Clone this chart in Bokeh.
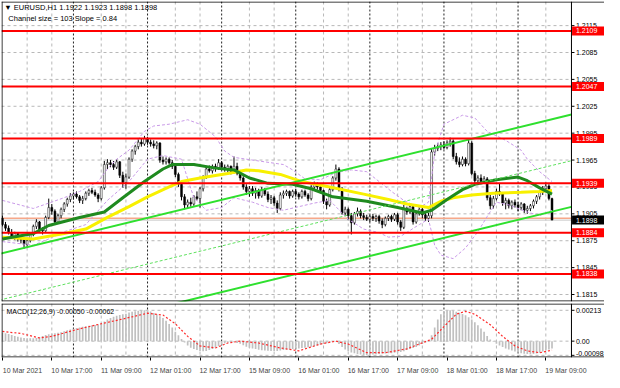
from bokeh.plotting import figure
from bokeh.models import Range1d, FixedTicker, Label, Span, ColumnDataSource
from bokeh.layouts import column
from bokeh.embed import file_html
from bokeh.resources import INLINE
from bokeh.core.properties import value

FONT = "Liberation Sans"

# ---------------- data (prices in pips, EURUSD H1, bar 0 = 10 Mar 01:00) ----------------
opens = [11900,11893,11889,11884,11880,11883,11877,11876,11871,11875,
         11882,11891,11896,11887,11886,11901,11912,11908,11896,11903,
         11910,11916,11921,11925,11927,11924,11920,11922,11928,11931,
         11929,11926,11922,11934,11960,11962,11960,11957,11963,11948,
         11940,11946,11966,11975,11980,11985,11983,11989,11985,11983,
         11981,11984,11965,11963,11966,11962,11958,11949,11938,11924,
         11915,11918,11916,11924,11922,11933,11946,11955,11953,11958,
         11956,11962,11957,11955,11958,11952,11958,11950,11945,11935,
         11930,11933,11928,11931,11925,11932,11927,11921,11923,11917,
         11911,11926,11928,11930,11925,11930,11927,11924,11930,11926,
         11922,11935,11938,11935,11931,11919,11915,11932,11945,11955,
         11933,11906,11910,11903,11895,11905,11908,11903,11901,11899,
         11902,11900,11902,11897,11893,11900,11902,11899,11904,11896,
         11890,11911,11907,11913,11896,11905,11910,11904,11900,11903,
         11974,11978,11980,11982,11979,11984,11986,11969,11963,11960,
         11966,11961,11984,11950,11942,11945,11941,11944,11923,11914,
         11922,11930,11927,11917,11920,11914,11918,11915,11912,11916,
         11909,11911,11914,11919,11924,11929,11933,11936,11922]
highs = [11903,11896,11892,11888,11885,11884,11881,11878,11877,11884,
         11893,11899,11897,11890,11903,11922,11916,11910,11905,11912,
         11918,11923,11928,11929,11930,11926,11925,11930,11933,11934,
         11932,11928,11936,11964,11966,11965,11964,11966,11964,11952,
         11950,11968,11977,11982,11988,11989,11992,11991,11988,11987,
         11986,11985,11969,11968,11968,11965,11960,11951,11941,11927,
         11921,11923,11926,11930,11935,11948,11958,11959,11960,11961,
         11966,11964,11960,11960,11959,11969,11962,11954,11947,11938,
         11936,11936,11934,11933,11935,11934,11930,11926,11925,11920,
         11929,11931,11932,11931,11932,11933,11929,11932,11932,11928,
         11937,11941,11940,11937,11932,11922,11934,11947,11960,11957,
         11935,11913,11912,11906,11907,11912,11910,11906,11904,11904,
         11905,11904,11904,11900,11902,11904,11904,11906,11906,11898,
         11915,11913,11916,11915,11908,11913,11912,11907,11906,11978,
         11982,11984,11985,11986,11987,11990,11988,11973,11968,11969,
         11968,11989,11986,11953,11948,11949,11947,11946,11927,11925,
         11933,11939,11929,11923,11922,11920,11921,11918,11918,11917,
         11914,11916,11921,11926,11931,11936,11940,11938,11923]
lows = [11891,11886,11882,11877,11876,11874,11872,11866,11868,11873,
        11880,11888,11884,11882,11885,11899,11904,11893,11894,11900,
        11907,11913,11918,11921,11922,11917,11916,11920,11925,11927,
        11924,11918,11920,11932,11955,11957,11954,11955,11945,11934,
        11933,11944,11963,11971,11977,11980,11981,11982,11980,11978,
        11977,11962,11960,11960,11960,11955,11946,11935,11920,11910,
        11911,11913,11914,11920,11912,11930,11944,11951,11950,11952,
        11954,11954,11952,11951,11949,11950,11948,11942,11932,11926,
        11924,11925,11922,11922,11923,11925,11918,11916,11914,11906,
        11909,11922,11925,11922,11923,11924,11921,11922,11924,11919,
        11920,11932,11932,11928,11916,11910,11913,11930,11942,11930,
        11904,11903,11898,11882,11893,11902,11900,11898,11897,11896,
        11897,11896,11894,11889,11891,11897,11896,11897,11893,11886,
        11888,11904,11905,11893,11894,11903,11900,11897,11896,11900,
        11970,11975,11976,11977,11977,11980,11966,11960,11957,11958,
        11958,11959,11948,11938,11937,11938,11939,11920,11910,11911,
        11920,11925,11914,11910,11911,11910,11912,11908,11909,11906,
        11905,11908,11911,11916,11921,11926,11930,11920,11898]
closes = [11893,11889,11884,11880,11883,11877,11876,11871,11875,11882,
          11891,11896,11887,11886,11901,11912,11908,11896,11903,11910,
          11916,11921,11925,11927,11924,11920,11922,11928,11931,11929,
          11926,11922,11934,11960,11962,11960,11957,11963,11948,11940,
          11946,11966,11975,11980,11985,11983,11989,11985,11983,11981,
          11984,11965,11963,11966,11962,11958,11949,11938,11924,11915,
          11918,11916,11924,11922,11933,11946,11955,11953,11958,11956,
          11962,11957,11955,11958,11952,11958,11950,11945,11935,11930,
          11933,11928,11931,11925,11932,11927,11921,11923,11917,11911,
          11926,11928,11930,11925,11930,11927,11924,11930,11926,11922,
          11935,11938,11935,11931,11919,11915,11932,11945,11955,11933,
          11906,11910,11903,11895,11905,11908,11903,11901,11899,11902,
          11900,11902,11897,11893,11900,11902,11899,11904,11896,11890,
          11911,11907,11913,11896,11905,11910,11904,11900,11903,11974,
          11978,11980,11982,11979,11984,11986,11969,11963,11960,11966,
          11961,11984,11950,11942,11945,11941,11944,11923,11914,11922,
          11930,11927,11917,11920,11914,11918,11915,11912,11916,11909,
          11911,11914,11919,11924,11929,11933,11936,11922,11898]

# moving averages and bands (bar index, pips)
green_ma_x = [0, 10, 15, 25, 33, 39, 46, 52, 55, 62, 69, 75, 80, 86, 94, 100, 107, 118, 128, 136, 139, 144, 149, 153, 160, 167, 170, 174, 178]
green_ma_v = [11877, 11883, 11892, 11901, 11907, 11923, 11941, 11955, 11960, 11960, 11956, 11954, 11945, 11939, 11938, 11933, 11924, 11919, 11912, 11906, 11909, 11921, 11932, 11938, 11943, 11946, 11942, 11934, 11927]
yellow_ma_x = [0, 10, 20, 27, 34, 41, 47, 54, 58, 64, 73, 79, 83, 90, 97, 106, 117, 125, 131, 138, 142, 146, 152, 159, 168, 174, 178]
yellow_ma_v = [11879, 11877, 11883, 11888, 11901, 11913, 11924, 11935, 11941, 11945, 11950, 11954, 11953, 11949, 11941, 11935, 11927, 11921, 11916, 11912, 11919, 11923, 11926, 11928, 11929, 11930, 11931]
band_up_x = [0, 10, 20, 25, 31, 34, 37, 41, 46, 49, 54, 60, 64, 69, 72, 75, 83, 91, 94, 98, 103, 108, 113, 118, 122, 126, 130, 135, 138, 140, 143, 149, 153, 157, 163, 168, 170, 174, 178]
band_up_v = [11920, 11911, 11923, 11930, 11941, 11955, 11966, 11976, 11997, 12003, 12005, 12010, 12005, 11991, 11975, 11968, 11964, 11960, 11954, 11944, 11943, 11951, 11954, 11952, 11941, 11930, 11920, 11912, 11918, 11973, 12005, 12015, 12012, 11997, 11987, 11976, 11966, 11952, 11941]
band_lo_x = [0, 10, 15, 20, 27, 34, 41, 47, 52, 58, 60, 62, 66, 71, 75, 81, 86, 91, 101, 106, 112, 117, 122, 125, 129, 135, 138, 140, 142, 146, 150, 154, 157, 160, 164, 170, 174, 178]
band_lo_v = [11874, 11870, 11877, 11885, 11893, 11920, 11941, 11966, 11970, 11966, 11944, 11923, 11909, 11912, 11923, 11918, 11912, 11909, 11917, 11920, 11899, 11888, 11884, 11879, 11880, 11893, 11899, 11870, 11859, 11855, 11867, 11885, 11902, 11918, 11915, 11907, 11903, 11909]

# regression channel (bar index, price), drawn up to the price scale
chan_x = [-1, 184.3]
chan_upper = [1.18602, 1.20158]
chan_mid = [1.18087, 1.19643]
chan_lower = [1.17572, 1.19128]

levels = [1.2109, 1.2047, 1.1989, 1.1939, 1.1884, 1.1838]
level_labels = ["1.2109", "1.2047", "1.1989", "1.1939", "1.1884", "1.1838"]
bid = 1.1898
bid_label = "1.1898"
marked_level = 1.1900

price_ticks = [1.2115, 1.2085, 1.2055, 1.2025, 1.1995, 1.1965, 1.1935, 1.1905, 1.1875, 1.1845, 1.1815]
price_tick_labels = ["1.2115", "1.2085", "1.2055", "1.2025", "1.1995", "1.1965", "1.1935", "1.1905", "1.1875", "1.1845", "1.1815"]

# MACD(12,26,9) main histogram, in 1e-5 units
macd_hist = [60,55,50,42,35,30,25,22,20,20,
             20,22,28,35,42,48,52,55,58,62,
             68,75,80,85,90,95,100,103,107,110,
             112,115,120,135,150,160,168,175,180,185,
             190,198,203,207,210,212,213,210,205,195,
             185,172,160,140,118,95,65,40,15,-10,
             -30,-45,-55,-62,-68,-70,-68,-62,-55,-45,
             -35,-25,-15,-10,-8,-8,-12,-18,-28,-38,
             -45,-50,-55,-60,-63,-65,-67,-68,-68,-68,
             -65,-62,-60,-58,-55,-52,-50,-48,-45,-42,
             -38,-35,-30,-25,-20,-15,-10,-5,-5,-20,
             -40,-58,-70,-78,-83,-88,-92,-96,-98,-96,
             -93,-90,-88,-86,-85,-84,-83,-80,-78,-75,
             -70,-62,-55,-48,-40,-30,-20,-10,5,40,
             95,150,185,205,212,213,208,203,196,188,
             178,165,150,130,110,88,65,35,12,-5,
             -18,-30,-40,-50,-58,-65,-72,-78,-83,-87,
             -89,-90,-88,-85,-80,-72,-65,-58,-50]
signal_x = [0, 6, 12, 16, 24, 32, 39, 47, 52, 56, 60, 64, 69, 73, 77, 83, 90, 96, 103, 108, 112, 118, 124, 131, 139, 143, 147, 150, 153, 158, 162, 166, 170, 174, 178]
signal_v = [67, 53, 22, 33, 80, 120, 153, 193, 180, 120, 33, -33, -47, -13, 0, -13, -47, -67, -20, 0, -20, -80, -80, -53, 13, 100, 186, 206, 186, 113, 33, -33, -67, -80, -62]
macd_ticks = [0.00213, 0.0, -0.00098]
macd_tick_labels = ["0.00213", "0.00", "-0.00098"]

time_bars = [0, 16, 32, 48, 64, 80, 96, 112, 128, 144, 160, 176]
time_labels = ["10 Mar 2021", "10 Mar 17:00", "11 Mar 09:00", "12 Mar 01:00", "12 Mar 17:00",
               "15 Mar 09:00", "16 Mar 01:00", "16 Mar 17:00", "17 Mar 09:00", "18 Mar 01:00",
               "18 Mar 17:00", "19 Mar 09:00"]
grid_bars = [8, 16, 32, 40, 56, 64, 80, 88, 104, 112, 128, 136, 152, 160, 176]
day_sep_bars = [23, 47, 71, 95, 119, 143, 167]

title_text = "\u25bc EURUSD,H1  1.1922 1.1923 1.1898 1.1898"
channel_text = "Channel size = 103 Slope = 0.84"
macd_text = "MACD(12,26,9) -0.00050 -0.00062"

# ---------------- geometry ----------------
PIP = 10000.0
X0 = -0.3          # left edge (bars)
X_END = 184.3      # price scale line (bars)
X_MAX = 195.0      # right edge of the window (bars)
FW = 603
PPX = FW / (X_MAX - X0)          # px per bar
MAIN_Y = (1.18072, 1.21419)
MAIN_H = 300
MACD_Y = (-0.00113, 0.0026)
MACD_H = 54
ppy_main = MAIN_H / (MAIN_Y[1] - MAIN_Y[0])
ppy_macd = MACD_H / (MACD_Y[1] - MACD_Y[0])

n = len(closes)
bars = list(range(n))
O = [v / PIP for v in opens]
H = [v / PIP for v in highs]
L = [v / PIP for v in lows]
C = [v / PIP for v in closes]

src = ColumnDataSource(dict(
    x=bars, high=H, low=L,
    top=[max(a, b) for a, b in zip(O, C)],
    bottom=[min(a, b) for a, b in zip(O, C)],
    fill=["#ffffff" if c >= o else "#000000" for o, c in zip(O, C)],
))

xr = Range1d(X0, X_MAX)
GRID = "#b8b8b8"


def make_fig(yr, h, bottom_border, xaxis):
    f = figure(frame_width=FW, frame_height=h, x_range=xr, y_range=Range1d(*yr),
               output_backend="svg", toolbar_location=None,
               x_axis_location="below" if xaxis else None, y_axis_location=None,
               min_border_left=1, min_border_right=0, min_border_top=1,
               min_border_bottom=bottom_border)
    f.background_fill_color = "white"
    f.border_fill_color = "white"
    f.outline_line_color = None
    f.grid.visible = False
    for b in grid_bars:
        f.add_layout(Span(location=b, dimension="height", line_color=GRID, line_dash="3 3",
                          line_width=1, level="underlay"))
    for b in day_sep_bars:
        f.add_layout(Span(location=b, dimension="height", line_color="#222222", line_dash="2 2",
                          line_width=1, level="underlay"))
    return f


def price_scale(f, ticks, label_y, labels, ppy):
    n_t = len(ticks)
    f.segment(x0=[X0] * n_t, y0=ticks, x1=[X_END] * n_t, y1=ticks, line_color=GRID,
              line_dash="3 3", line_width=1)
    return n_t


def finish_scale(f, ticks, label_y, labels, ppy, yr):
    n_t = len(ticks)
    f.segment(x0=[X_END] * n_t, y0=ticks, x1=[X_END + 3 / PPX] * n_t, y1=ticks,
              line_color="black", line_width=1)
    f.text(x=[X_END + 4.5 / PPX] * n_t, y=label_y, text=labels, text_align="left",
           text_baseline="middle", text_font=value(FONT), text_font_size=value("7px"),
           text_color="black")


def borders(f, yr, ppy):
    f.add_layout(Span(location=X0 + 0.5 / PPX, dimension="height", line_color="black", line_width=1))
    f.add_layout(Span(location=X_END, dimension="height", line_color="black", line_width=1))
    f.add_layout(Span(location=yr[1] - 0.5 / ppy, dimension="width", line_color="black", line_width=1))
    f.add_layout(Span(location=yr[0] + 0.5 / ppy, dimension="width", line_color="black", line_width=1))


# ---------------- main panel ----------------
main = make_fig(MAIN_Y, MAIN_H, 1, False)
price_scale(main, price_ticks, price_ticks, price_tick_labels, ppy_main)
main.segment(x0=[X0], y0=[marked_level], x1=[X_END], y1=[marked_level], line_color="#f7a88a", line_width=1.5)
main.segment(x0=[X0], y0=[bid], x1=[X_END], y1=[bid], line_color="#c8c8c8", line_width=1)

# candles
main.segment(x0="x", y0="low", x1="x", y1="high", source=src, line_color="black", line_width=1)
main.vbar(x="x", width=0.62, top="top", bottom="bottom", fill_color="fill",
          line_color="black", line_width=0.5, source=src)

# bands and moving averages
main.line(band_up_x, [v / PIP for v in band_up_v], line_color="#c99ae8", line_dash="3 2", line_width=1)
main.line(band_lo_x, [v / PIP for v in band_lo_v], line_color="#c99ae8", line_dash="3 2", line_width=1)
main.line(yellow_ma_x, [v / PIP for v in yellow_ma_v], line_color="#f8f000", line_width=3)
main.line(green_ma_x, [v / PIP for v in green_ma_v], line_color="#1f8a1f", line_width=3)

# channel
main.line(chan_x, chan_upper, line_color="#2ee02e", line_width=2)
main.line(chan_x, chan_lower, line_color="#2ee02e", line_width=2)
main.line(chan_x, chan_mid, line_color="#5ee05e", line_width=1, line_dash="3 2")

# red levels
nl = len(levels)
main.segment(x0=[X0] * nl, y0=levels, x1=[X_END] * nl, y1=levels, line_color="#ff0000", line_width=2)

finish_scale(main, price_ticks, price_ticks, price_tick_labels, ppy_main, MAIN_Y)

# price tags on the scale
half = 4.5 / ppy_main
tag_y = levels + [bid]
tag_txt = level_labels + [bid_label]
tag_col = ["#ff0000"] * nl + ["#000000"]
main.quad(left=[X_END + 0.6 / PPX] * len(tag_y), right=[X_MAX] * len(tag_y),
          bottom=[y - half for y in tag_y], top=[y + half for y in tag_y],
          fill_color=tag_col, line_color=None)
main.text(x=[X_END + 4.5 / PPX] * len(tag_y), y=tag_y, text=tag_txt, text_align="left",
          text_baseline="middle", text_font=value(FONT), text_font_size=value("7px"),
          text_color="white")

borders(main, MAIN_Y, ppy_main)

main.add_layout(Label(x=0.6, y=1.21356, text=title_text, text_baseline="middle",
                      text_font=FONT, text_font_size="7.5px", text_color="black"))
main.add_layout(Label(x=1.9, y=1.21228, text=channel_text, text_baseline="middle",
                      text_font=FONT, text_font_size="7.5px", text_color="black"))

# ---------------- MACD panel ----------------
macd = make_fig(MACD_Y, MACD_H, 15, True)
price_scale(macd, macd_ticks, macd_ticks, macd_tick_labels, ppy_macd)
macd.vbar(x=bars, top=[v / 100000.0 for v in macd_hist], bottom=0, width=0.55,
          fill_color="#c0c0c0", line_color=None)
macd.line(signal_x, [v / 100000.0 for v in signal_v], line_color="#ff2a2a",
          line_dash="2 2", line_width=1.2)
macd_label_y = [macd_ticks[0], macd_ticks[1], MACD_Y[0] + 4.5 / ppy_macd]
finish_scale(macd, macd_ticks, macd_label_y, macd_tick_labels, ppy_macd, MACD_Y)
borders(macd, MACD_Y, ppy_macd)

LABEL_SHIFT = 6.5
mx = macd.xaxis[0]
centers = [b + LABEL_SHIFT for b in time_bars]
mx.ticker = FixedTicker(ticks=centers, minor_ticks=time_bars)
mx.major_label_overrides = dict(zip(centers, time_labels))
mx.axis_line_color = None
mx.major_tick_line_color = None
mx.minor_tick_line_color = "black"
mx.minor_tick_out = 3
mx.minor_tick_in = 0
mx.major_label_standoff = 3
mx.major_label_text_font = FONT
mx.major_label_text_font_size = "7px"

macd.add_layout(Label(x=1.3, y=0.00206, text=macd_text, text_baseline="middle",
                      text_font=FONT, text_font_size="7px", text_color="black"))

layout = column(main, macd)
open("out.html", "w").write(file_html(layout, INLINE))
